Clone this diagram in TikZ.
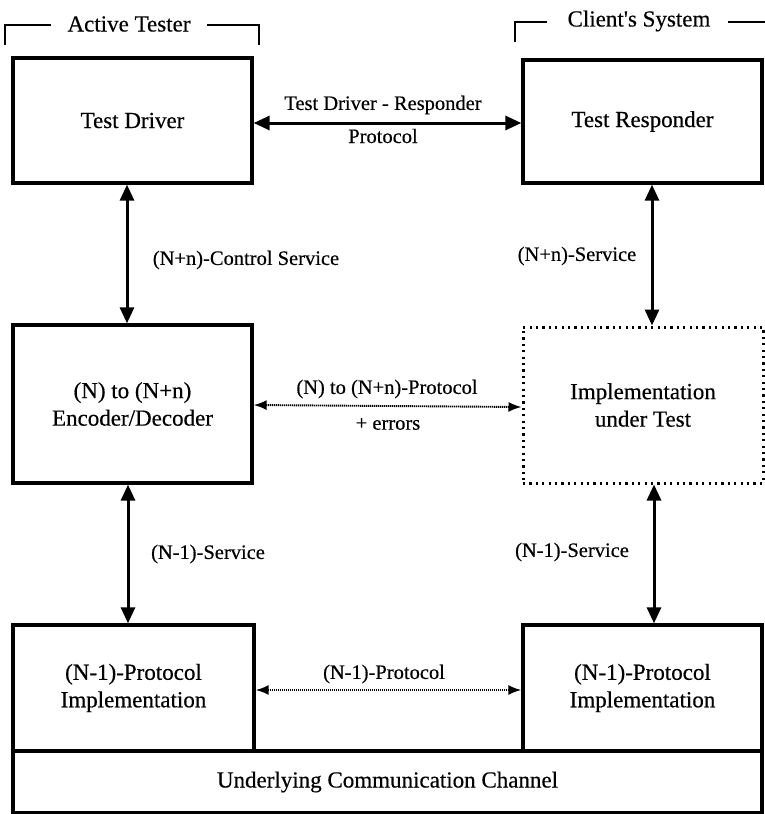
\documentclass[tikz,border=0pt]{standalone}
\usepackage{fontspec}
\setmainfont{Liberation Serif}
\newfontfamily\inkfont[FakeBold=0.4]{Liberation Serif}
\usetikzlibrary{arrows.meta}
\newcommand\bxfont{\inkfont\fontsize{23}{27.5}\selectfont}
\newcommand\lbfont{\inkfont\fontsize{20.5}{24}\selectfont}
\begin{document}
\begin{tikzpicture}[x=1pt,y=-1pt,
  box/.style={draw, line width=3.3pt, inner sep=0pt, align=center, font=\bxfont},
  dotbox/.style={draw, line width=3pt, dash pattern=on 2.2pt off 4.2pt, inner sep=0pt, align=center, font=\bxfont},
  lbl/.style={inner sep=0pt, font=\lbfont},
  ttl/.style={inner sep=0pt, font=\bxfont},
  bracket/.style={line width=2.2pt},
  service/.style={line width=3pt, {Triangle[length=16pt,width=14pt]}-{Triangle[length=16pt,width=14pt]}},
  peer/.style={line width=1.9pt, dash pattern=on 1.2pt off 0.8pt, {Latex[length=13pt,width=10pt]}-{Latex[length=13pt,width=10pt]}}
]
\useasboundingbox (0,0) rectangle (765,814);

% group brackets
\draw[bracket] (5,45) -- (5,25) -- (51,25);
\draw[bracket] (207,25) -- (259,25) -- (259,45);
\node[ttl] (tester) at (129,24) {Active Tester};
\draw[bracket] (515,42) -- (515,22) -- (547,22);
\draw[bracket] (728,22) -- (765,22);
\node[ttl] (client) at (639,21) {Client's System};

% boxes
\node[box, minimum width=239pt, minimum height=125pt] (drv) at (132.5,120.5) {Test Driver};
\node[box, minimum width=239pt, minimum height=123pt] (rsp) at (642.5,121.5) {Test Responder};
\node[box, minimum width=239pt, minimum height=158pt] (enc) at (132.5,404) {(N) to (N+n)\\Encoder/Decoder};
\node[dotbox, minimum width=240pt, minimum height=156pt] (iut) at (643,405) {Implementation\\under Test};
\node[box, minimum width=241pt, minimum height=126pt] (lp) at (133.5,688) {(N-1)-Protocol\\Implementation};
\node[box, minimum width=239pt, minimum height=126pt] (rp) at (642.5,688) {(N-1)-Protocol\\Implementation};
\node[box, minimum width=749pt, minimum height=62pt] (chan) at (387.5,782) {Underlying Communication Channel};

% service access arrows
\draw[service] ([yshift=-2.5pt]drv.east) -- ([yshift=-1.5pt]rsp.west);
\draw[service] ([xshift=-5.5pt]drv.south) -- ([xshift=-5.5pt]enc.north);
\draw[service] ([xshift=9.5pt]rsp.south) -- ([xshift=9pt]iut.north);
\draw[service] ([xshift=-4.5pt]enc.south) -- ([xshift=-5.5pt]lp.north);
\draw[service] ([xshift=11pt]iut.south) -- ([xshift=11.5pt]rp.north);

% peer protocol arrows
\draw[peer] ([yshift=-1pt]enc.east) -- ([yshift=-2pt]iut.west);
\draw[peer] ([yshift=-2pt]lp.east) -- ([yshift=-2pt]rp.west);

% labels
\node[lbl] (l1a) at (383,105) {Test Driver - Responder};
\node[lbl] (l1b) at (383,136) {Protocol};
\node[lbl] (l2) at (246,260) {(N+n)-Control Service};
\node[lbl] (l3) at (577,256) {(N+n)-Service};
\node[lbl] (l4a) at (387,389) {(N) to (N+n)-Protocol};
\node[lbl] (l4b) at (388,424) {+ errors};
\node[lbl] (l5) at (208,554) {(N-1)-Service};
\node[lbl] (l6) at (572,552) {(N-1)-Service};
\node[lbl] (l7) at (384,674) {(N-1)-Protocol};
\end{tikzpicture}
\end{document}
